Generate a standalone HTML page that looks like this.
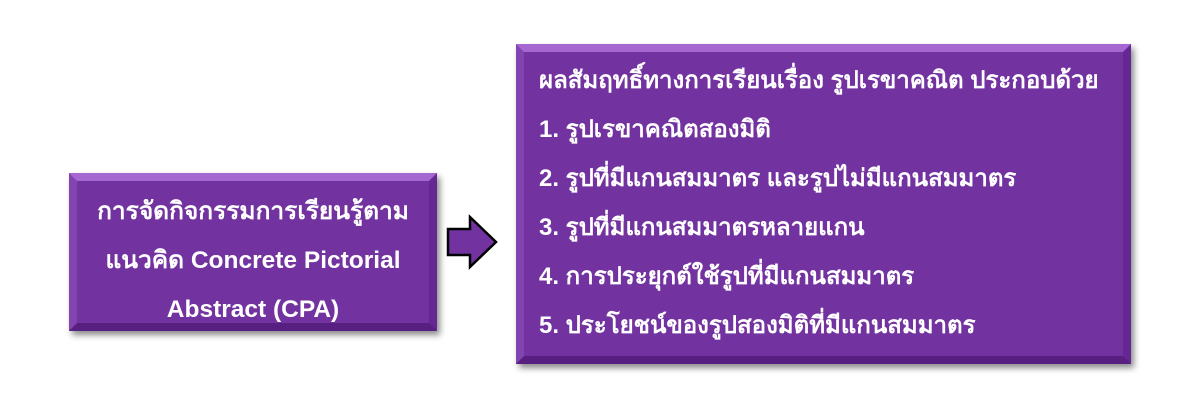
<!DOCTYPE html>
<html><head><meta charset="utf-8"><style>
body{margin:0;width:1190px;height:410px;background:#fff;position:relative;overflow:hidden;font-family:"Liberation Sans","DejaVu Sans","Noto Sans CJK SC",sans-serif;}
.box{position:absolute;box-sizing:border-box;background:#7232a0;border-style:solid;border-width:8px;border-color:#a468d0 #652892 #561f80 #8244b0;box-shadow:3px 4px 6px rgba(0,0,0,0.45);color:#fff;font-weight:bold;}
#l{left:69px;top:173px;width:368px;height:158px;text-align:center;font-size:24.5px;line-height:49px;padding-top:6px;white-space:nowrap;}
#r{left:516px;top:44px;width:615px;height:320px;font-size:24px;line-height:49px;padding:4px 0 0 15px;white-space:nowrap;}
</style></head><body>
<div class="box" id="l">การจัดกิจกรรมการเรียนรู้ตาม<br>แนวคิด Concrete Pictorial<br>Abstract (CPA)</div>
<svg style="position:absolute;left:440px;top:212px" width="65" height="62"><polygon points="8,17 30,17 30,5 56,30 30,55 30,43 8,43" fill="#7232a0" stroke="#000" stroke-width="2.5"/></svg>
<div class="box" id="r">ผลสัมฤทธิ์ทางการเรียนเรื่อง รูปเรขาคณิต ประกอบด้วย<br>1. รูปเรขาคณิตสองมิติ<br>2. รูปที่มีแกนสมมาตร และรูปไม่มีแกนสมมาตร<br>3. รูปที่มีแกนสมมาตรหลายแกน<br>4. การประยุกต์ใช้รูปที่มีแกนสมมาตร<br>5. ประโยชน์ของรูปสองมิติที่มีแกนสมมาตร</div>
</body></html>
